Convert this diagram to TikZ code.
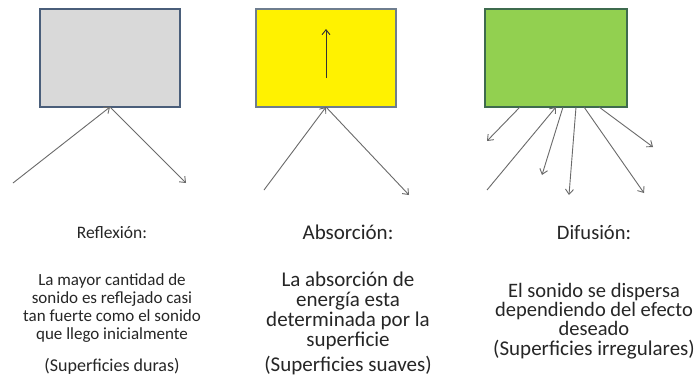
\documentclass[tikz,border=0pt]{standalone}
\usepackage{fontspec}
\setmainfont{Carlito}
\usetikzlibrary{arrows.meta}
\definecolor{grayfill}{HTML}{D9D9D9}
\definecolor{slateborder}{HTML}{4A5E7A}
\definecolor{yellowborder}{HTML}{6E7D8E}
\definecolor{greenfill}{HTML}{92D050}
\definecolor{greenborder}{HTML}{3E6B4E}
\definecolor{raycol}{HTML}{6A6A6A}
\definecolor{txt}{HTML}{262626}
\tikzset{
  surface/.style={draw, line width=1.8pt, minimum width=140pt, minimum height=98pt, inner sep=0pt},
  ray/.style={draw=raycol, line width=0.9pt, -{Straight Barb[length=5pt,width=8pt]}},
  heading/.style={text=txt, align=center, inner sep=0pt},
  body/.style={text=txt, align=center, inner sep=0pt}
}
\begin{document}
\begin{tikzpicture}[x=1pt,y=-1pt]
\useasboundingbox[fill=white] (0,0) rectangle (699,378);
% boxes
\node[surface, fill=grayfill, draw=slateborder] (b1) at (110,58) {};
\node[surface, fill=yellow, draw=yellowborder, line width=1.4pt] (b2) at (326,58) {};
\node[surface, fill=greenfill, draw=greenborder, minimum width=142pt] (b3) at (556,58) {};
% reflection
\coordinate (r1in) at (13,183);
\coordinate (r1hit) at (110,107);
\coordinate (r1out) at (186,183);
\draw[ray] (r1in) -- (r1hit);
\draw[ray] (r1hit) -- (r1out);
% absorption
\coordinate (a0) at (326,78);
\coordinate (a1) at (326,29);
\draw[ray, draw=black!80] (a0) -- (a1);
\coordinate (a2in) at (264,190);
\coordinate (a2hit) at (326,107);
\coordinate (a2out) at (409,195);
\draw[ray] (a2in) -- (a2hit);
\draw[ray] (a2hit) -- (a2out);
% diffusion
\coordinate (d1s) at (520,107); \coordinate (d1e) at (487,141);
\coordinate (d2s) at (487,190); \coordinate (d2e) at (556,107);
\coordinate (d3s) at (563,107); \coordinate (d3e) at (542,175);
\coordinate (d4s) at (576,107); \coordinate (d4e) at (569,195);
\coordinate (d5s) at (584,107); \coordinate (d5e) at (644,193);
\coordinate (d6s) at (599,107); \coordinate (d6e) at (653,147);
\draw[ray] (d1s) -- (d1e);
\draw[ray] (d2s) -- (d2e);
\draw[ray] (d3s) -- (d3e);
\draw[ray] (d4s) -- (d4e);
\draw[ray] (d5s) -- (d5e);
\draw[ray] (d6s) -- (d6e);
% texts
\node[heading, font=\fontsize{17.5}{19}\selectfont] (h1) at (112,233) {Reflexión:};
\node[body, font=\fontsize{17}{18}\selectfont] (t1) at (112,308) {La mayor cantidad de\\sonido es reflejado casi\\tan fuerte como el sonido\\que llego inicialmente};
\node[body, font=\fontsize{18}{19}\selectfont] (p1) at (112,366) {(Superficies duras)};
\node[heading, font=\fontsize{21}{22}\selectfont] (h2) at (348,232) {Absorción:};
\node[body, font=\fontsize{21}{20}\selectfont] (t2) at (348,311) {La absorción de\\energía esta\\determinada por la\\superficie};
\node[body, font=\fontsize{21}{22}\selectfont] (p2) at (348,366) {(Superficies suaves)};
\node[heading, font=\fontsize{20.5}{22}\selectfont] (h3) at (594,233) {Difusión:};
\node[body, font=\fontsize{20.5}{19}\selectfont] (t3) at (594,309) {El sonido se dispersa\\dependiendo del efecto\\deseado};
\node[body, font=\fontsize{21}{22}\selectfont] (p3) at (594,350) {(Superficies irregulares)};
\end{tikzpicture}
\end{document}
